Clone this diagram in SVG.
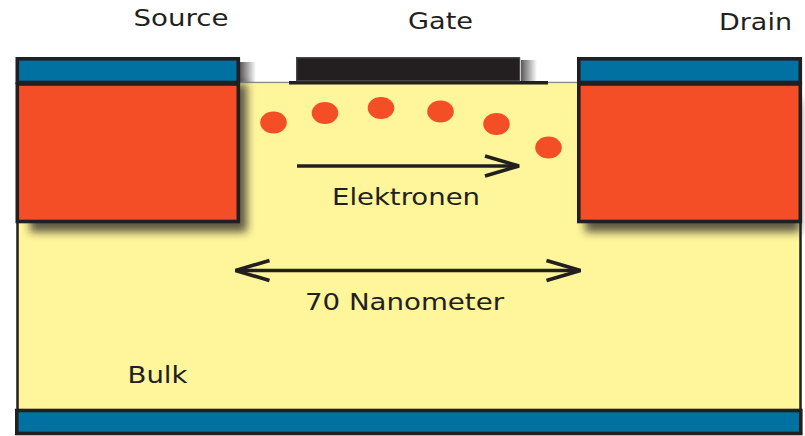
<svg xmlns="http://www.w3.org/2000/svg" width="805" height="436" viewBox="0 0 805 436">
<defs>
<style>
.lbl{font-family:"DejaVu Sans",sans-serif;font-size:23px;fill:#231f20}
.box{stroke:#231f20;stroke-width:3.6}
.blue{fill:#0071a1}
.orange{fill:#f44e26}
.dot{fill:#f44e26}
.arrow{fill:none;stroke:#231f20;stroke-width:3.6}
</style>
<filter id="sh" filterUnits="userSpaceOnUse" x="0" y="0" width="805" height="436"><feGaussianBlur stdDeviation="4"/></filter>
<linearGradient id="fade"><stop offset="0" stop-color="#231f20" stop-opacity=".75"/><stop offset="1" stop-color="#231f20" stop-opacity="0"/></linearGradient>
<marker id="head" markerUnits="userSpaceOnUse" markerWidth="40" markerHeight="26" refX="30" refY="13" orient="auto-start-reverse" overflow="visible">
<path d="M0 3 L34 13 L0 23" fill="none" stroke="#231f20" stroke-width="3.6" stroke-linejoin="bevel"/>
</marker>
</defs>
<rect width="805" height="436" fill="#fff"/>
<g id="shadows-top">
<rect x="240" y="62" width="16" height="21" fill="url(#fade)"/>
<rect x="521" y="60" width="16" height="21" fill="url(#fade)"/>
</g>
<g id="bulk">
<rect x="18" y="84" width="782" height="327" fill="#fff59a"/>
<path d="M17.500 222V410M800.500 222V410" stroke="#231f20" stroke-width="2.500" fill="none"/>
<path d="M238 82.500H578" stroke="#8a8b8d" stroke-width="1.500" fill="none"/>
<rect x="16.800" y="410.500" width="784" height="23" class="box blue"/>
<text x="127.500" y="383" class="lbl" textLength="60" lengthAdjust="spacingAndGlyphs">Bulk</text>
</g>
<g id="shadows">
<rect x="30" y="84" width="217" height="148" fill="#231f20" opacity=".72" filter="url(#sh)"/>
<rect x="585" y="100" width="215" height="132" fill="#231f20" opacity=".72" filter="url(#sh)"/>
</g>
<g id="source">
<rect x="17.300" y="84" width="221" height="137.500" class="box orange"/>
<rect x="17.300" y="58.800" width="221" height="23.700" class="box blue"/>
<text x="133.500" y="26" class="lbl" textLength="95" lengthAdjust="spacingAndGlyphs">Source</text>
</g>
<g id="gate">
<path d="M289 84.500V81H296V57H520V81H548V84.500Z" fill="#231f20"/>
<rect x="296.800" y="57.800" width="223" height="23" fill="none" stroke="#58595b" stroke-width="1"/>
<text x="408" y="29" class="lbl" textLength="65" lengthAdjust="spacingAndGlyphs">Gate</text>
</g>
<g id="drain">
<rect x="578.800" y="84" width="221.500" height="137.500" class="box orange"/>
<rect x="578.800" y="58.800" width="221.500" height="23.700" class="box blue"/>
<text x="719" y="30" class="lbl" textLength="73" lengthAdjust="spacingAndGlyphs">Drain</text>
</g>
<g id="electrons">
<ellipse cx="273.500" cy="122.500" rx="13.300" ry="11" class="dot"/>
<ellipse cx="325" cy="113" rx="13.300" ry="11" class="dot"/>
<ellipse cx="381" cy="108" rx="13.300" ry="11" class="dot"/>
<ellipse cx="440.500" cy="111.500" rx="13.300" ry="11" class="dot"/>
<ellipse cx="496.500" cy="124" rx="13.300" ry="11" class="dot"/>
<ellipse cx="548.500" cy="147.500" rx="13.300" ry="11" class="dot"/>
</g>
<g id="connectors">
<path d="M297 166H515" class="arrow" marker-end="url(#head)"/>
<path d="M239.500 270.500H576.500" class="arrow" marker-start="url(#head)" marker-end="url(#head)"/>
</g>
<g id="labels">
<text x="332" y="205" class="lbl" textLength="148" lengthAdjust="spacingAndGlyphs">Elektronen</text>
<text x="305" y="310" class="lbl" textLength="199" lengthAdjust="spacingAndGlyphs">70 Nanometer</text>
</g>
</svg>
